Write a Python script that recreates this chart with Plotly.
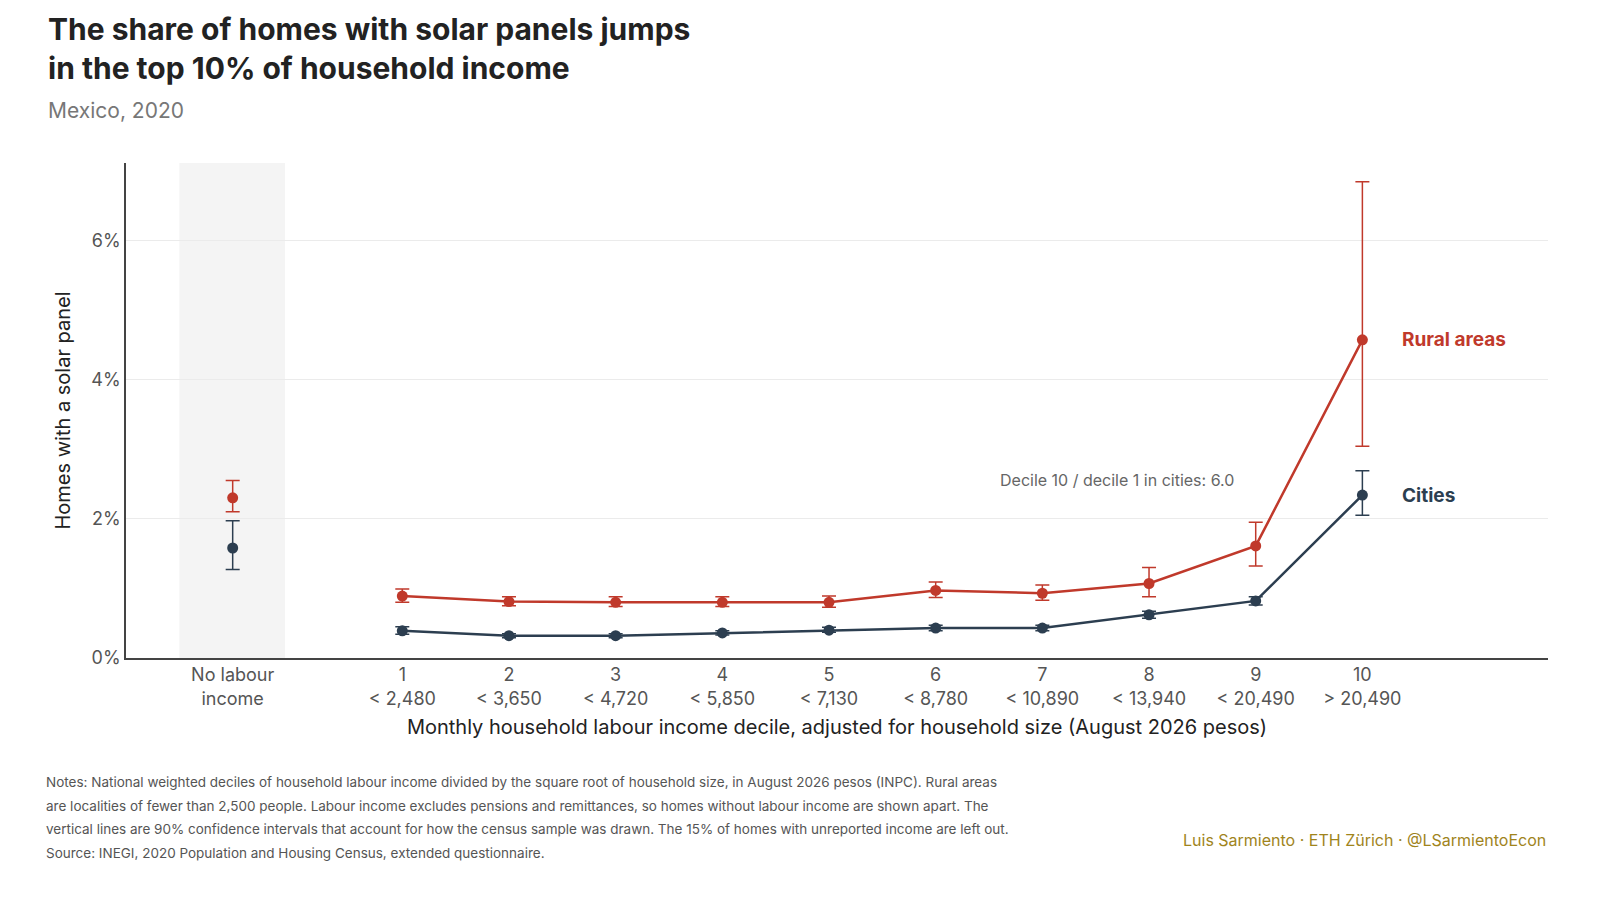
import plotly.graph_objects as go

# categories: "No labour income" then deciles 1-10
x_pos = [-0.59, 1, 2, 3, 4, 5, 6, 7, 8, 9, 10]
tick_text = ["No labour<br>income", "1<br>< 2,480", "2<br>< 3,650", "3<br>< 4,720", "4<br>< 5,850",
             "5<br>< 7,130", "6<br>< 8,780", "7<br>< 10,890", "8<br>< 13,940", "9<br>< 20,490", "10<br>> 20,490"]

rural = [2.30, 0.89, 0.81, 0.80, 0.80, 0.80, 0.97, 0.93, 1.07, 1.61, 4.57]
rural_hi = [2.55, 0.99, 0.88, 0.88, 0.88, 0.89, 1.09, 1.05, 1.30, 1.95, 6.84]
rural_lo = [2.10, 0.80, 0.75, 0.74, 0.74, 0.73, 0.87, 0.83, 0.88, 1.32, 3.04]

cities = [1.58, 0.39, 0.32, 0.32, 0.36, 0.40, 0.43, 0.43, 0.62, 0.82, 2.34]
cities_hi = [1.97, 0.45, 0.35, 0.35, 0.39, 0.44, 0.47, 0.47, 0.67, 0.88, 2.69]
cities_lo = [1.27, 0.34, 0.29, 0.29, 0.33, 0.37, 0.39, 0.39, 0.57, 0.76, 2.05]

notes = [
    "Notes: National weighted deciles of household labour income divided by the square root of household size, in August 2026 pesos (INPC). Rural areas",
    "are localities of fewer than 2,500 people. Labour income excludes pensions and remittances, so homes without labour income are shown apart. The",
    "vertical lines are 90% confidence intervals that account for how the census sample was drawn. The 15% of homes with unreported income are left out.",
    "Source: INEGI, 2020 Population and Housing Census, extended questionnaire.",
]

RED = "#c0392b"
DARK = "#2c3e50"
FONT = "Inter"
TOP, BOTTOM = 155, 250
PLOT_H = 900 - TOP - BOTTOM

fig = go.Figure()

def add_series(vals, hi, lo, color, name):
    up = [h - v for h, v in zip(hi, vals)]
    down = [v - l for v, l in zip(vals, lo)]
    for sl, mode in ((slice(0, 1), "markers"), (slice(1, None), "lines+markers")):
        fig.add_trace(go.Scatter(x=x_pos[sl], y=vals[sl], mode=mode,
                                 line=dict(color=color, width=2.5),
                                 marker=dict(color=color, size=11),
                                 error_y=dict(type="data", symmetric=False, array=up[sl], arrayminus=down[sl],
                                              color=color, thickness=1.5, width=7),
                                 showlegend=False, name=name))

add_series(rural, rural_hi, rural_lo, RED, "Rural areas")
add_series(cities, cities_hi, cities_lo, DARK, "Cities")

fig.add_vrect(x0=-1.09, x1=-0.1, fillcolor="#f4f4f4", line_width=0, layer="below")

fig.add_annotation(x=10.35, y=rural[-1], text="<b>Rural areas</b>", showarrow=False,
                   xanchor="left", font=dict(color=RED, size=19, family=FONT))
fig.add_annotation(x=10.35, y=cities[-1], text="<b>Cities</b>", showarrow=False,
                   xanchor="left", font=dict(color=DARK, size=19, family=FONT))
fig.add_annotation(x=7.7, y=2.55, text="Decile 10 / decile 1 in cities: 6.0", showarrow=False,
                   font=dict(color="#666", size=16, family=FONT))

def paper_y(px):
    return (900 - BOTTOM - px) / PLOT_H

for i, line in enumerate(notes):
    fig.add_annotation(xref="paper", yref="paper", x=-0.058, y=paper_y(774 + 23.5 * i),
                       xanchor="left", yanchor="middle", showarrow=False, text=line,
                       font=dict(size=13.5, color="#555", family=FONT))
fig.add_annotation(xref="paper", yref="paper", x=1, y=paper_y(832), xanchor="right", yanchor="middle",
                   showarrow=False, text="Luis Sarmiento · ETH Zürich · @LSarmientoEcon",
                   font=dict(size=16, color="#a0841c", family=FONT))

fig.update_layout(
    width=1600, height=900, plot_bgcolor="white", paper_bgcolor="white",
    margin=dict(l=118, r=60, t=TOP, b=BOTTOM),
    font=dict(family=FONT, color="#444"),
    title=dict(text="<b>The share of homes with solar panels jumps<br>in the top 10% of household income</b>"
                    "<br><span style='font-size:21px;color:#777'>Mexico, 2020</span>",
               x=0.025, xanchor="left", y=0.965, yanchor="top", xref="container", yref="container",
               font=dict(size=30, color="#222", family=FONT)),
    xaxis=dict(range=[-1.59, 11.74], tickvals=x_pos, ticktext=tick_text, showgrid=False,
               zeroline=False, showline=True, linecolor="#444", linewidth=1.5, ticks="",
               tickfont=dict(size=18, color="#555"),
               title=dict(text="Monthly household labour income decile, adjusted for household size (August 2026 pesos)",
                          font=dict(size=20, color="#222"), standoff=12)),
    yaxis=dict(range=[0, 7.11], tickvals=[0, 2, 4, 6], ticktext=["0%", "2%", "4%", "6%"],
               showgrid=True, gridcolor="#ebebeb", zeroline=False, showline=True,
               linecolor="#444", linewidth=1.5, ticks="", tickfont=dict(size=18, color="#555"),
               title=dict(text="Homes with a solar panel", font=dict(size=20, color="#222"), standoff=15)),
)

fig.write_html("out.html")
